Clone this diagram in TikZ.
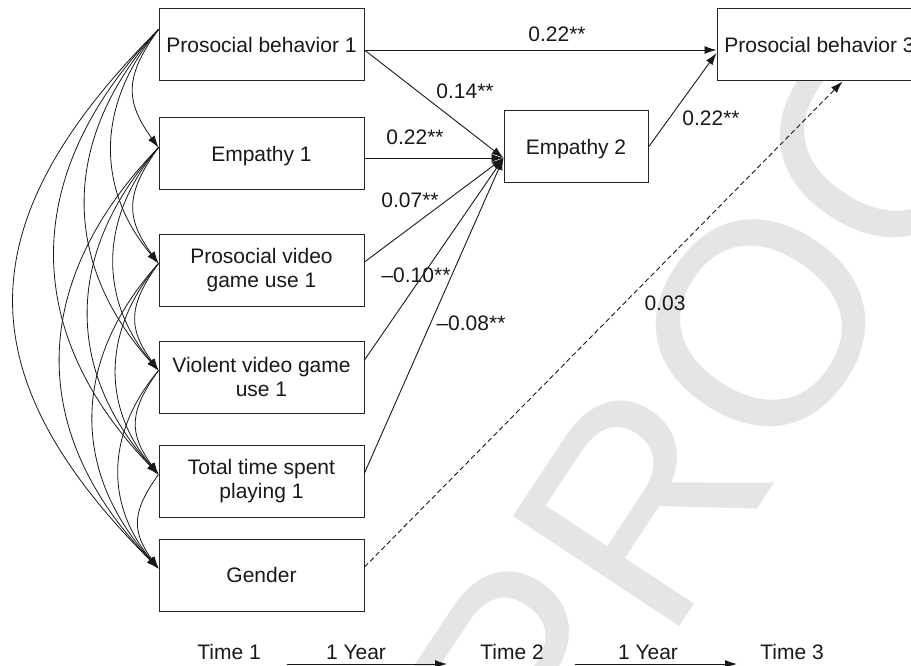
\documentclass[tikz,border=0pt]{standalone}
\usepackage{fontspec}
\setmainfont{Liberation Sans}
\usetikzlibrary{arrows.meta,calc}
\tikzset{
  box/.style={draw=black!85, line width=1pt, fill=white, minimum width=205pt, minimum height=72pt,
    inner sep=0pt, align=center, text=black!90, font=\fontsize{21}{24}\selectfont},
  onebox/.style={box, text depth=0pt},
  lbl/.style={inner sep=0pt, text=black!90, font=\fontsize{21}{24}\selectfont},
  conn/.style={draw=black!90, line width=0.9pt, -{Latex[length=12pt,width=8pt]}},
  cov/.style={draw=black!90, line width=0.8pt, -{Latex[length=12pt,width=8pt]}},
  wm/.style={inner sep=0pt, text=black!10, font=\fontsize{290}{290}\selectfont}
}
\begin{document}
\begin{tikzpicture}[x=1pt,y=1pt]
\useasboundingbox (0,0) rectangle (911,-666);
% watermark
\node[wm, rotate=56.5] (wmark) at (761,-323) {PROOF};

% boxes
\node[onebox] (pb1) at (261.5,-45) {Prosocial behavior 1};
\node[onebox] (emp1) at (261.5,-154) {Empathy 1};
\node[box] (pv1) at (261.5,-270) {Prosocial video\\game use 1};
\node[box] (vv1) at (261.5,-377) {Violent video game\\use 1};
\node[box] (tt1) at (261.5,-481) {Total time spent\\playing 1};
\node[onebox] (gen) at (261.5,-575) {Gender};
\node[onebox, minimum width=144pt] (emp2) at (576,-147) {Empathy 2};
\node[onebox] (pb3) at (819.5,-45) {Prosocial behavior 3};

% connection points
\coordinate (e2in) at ($(emp2.west)+(0,-11)$);
\coordinate (pb3in) at ($(pb3.west)+(0,-5)$);
\coordinate (pb3in2) at ($(pb3.west)+(0,-8)$);
\coordinate (pb3bot) at ($(pb3.south west)+(126,0)$);
\coordinate (pb1out) at ($(pb1.east)+(0,-5)$);
\coordinate (emp1out) at ($(emp1.east)+(0,-4)$);
\coordinate (pv1out) at ($(pv1.east)+(0,8)$);
\coordinate (vv1out) at ($(vv1.east)+(0,17)$);
\coordinate (tt1out) at ($(tt1.east)+(0,8)$);
\coordinate (genout) at ($(gen.east)+(0,8)$);

% paths
\draw[conn] (pb1out) -- (pb3in);
\draw[conn] (pb1out) -- (e2in);
\draw[conn] (emp1out) -- (e2in);
\draw[conn] (pv1out) -- (e2in);
\draw[conn] (vv1out) -- (e2in);
\draw[conn] (tt1out) -- (e2in);
\draw[conn] (emp2.east) -- (pb3in2);
\draw[conn, dash pattern=on 5pt off 3pt] (genout) -- (pb3bot);

% path labels
\node[lbl] (l1) at (557,-34) {0.22**};
\node[lbl] (l2) at (465,-91) {0.14**};
\node[lbl] (l3) at (415,-137) {0.22**};
\node[lbl] (l4) at (410,-200) {0.07**};
\node[lbl] (l5) at (416,-275) {–0.10**};
\node[lbl] (l6) at (471,-323) {–0.08**};
\node[lbl] (l7) at (665,-303) {0.03};
\node[lbl] (l8) at (711,-118) {0.22**};

% covariance points
\coordinate (c1) at ($(pb1.north west)+(0,-21)$);
\coordinate (c2) at ($(emp1.north west)+(0,-30)$);
\coordinate (c3) at ($(pv1.north west)+(0,-30)$);
\coordinate (c4) at ($(vv1.north west)+(0,-30)$);
\coordinate (c5) at ($(tt1.north west)+(0,-30)$);
\coordinate (c6) at ($(gen.north west)+(0,-30)$);

\foreach \i/\j/\b/\l in {
  1/2/36/1.25, 2/3/36/1.25, 3/4/36/1.25, 4/5/36/1.25, 5/6/36/1.25,
  1/3/40/1.07, 2/4/40/1.07, 3/5/40/1.07, 4/6/40/1.07,
  1/4/42/1.1, 2/5/42/1.1, 3/6/42/1.1,
  1/5/44/1.15, 2/6/44/1.15,
  1/6/45/1.3}{
  \pgfmathsetmacro\oa{270-\b}
  \pgfmathsetmacro\ia{90+\b}
  \draw[cov] (c\i) to[out=\oa, in=\ia, looseness=\l] (c\j);
}

% timeline
\node[lbl] (t1) at (229,-652) {Time 1};
\node[lbl] (y1) at (356,-652) {1 Year};
\node[lbl] (t2) at (512,-652) {Time 2};
\node[lbl] (y2) at (648,-652) {1 Year};
\node[lbl] (t3) at (792,-652) {Time 3};
\coordinate (a1s) at (287,-664);
\coordinate (a1e) at (447,-664);
\coordinate (a2s) at (575,-664);
\coordinate (a2e) at (737,-664);
\draw[conn] (a1s) -- (a1e);
\draw[conn] (a2s) -- (a2e);
\end{tikzpicture}
\end{document}
